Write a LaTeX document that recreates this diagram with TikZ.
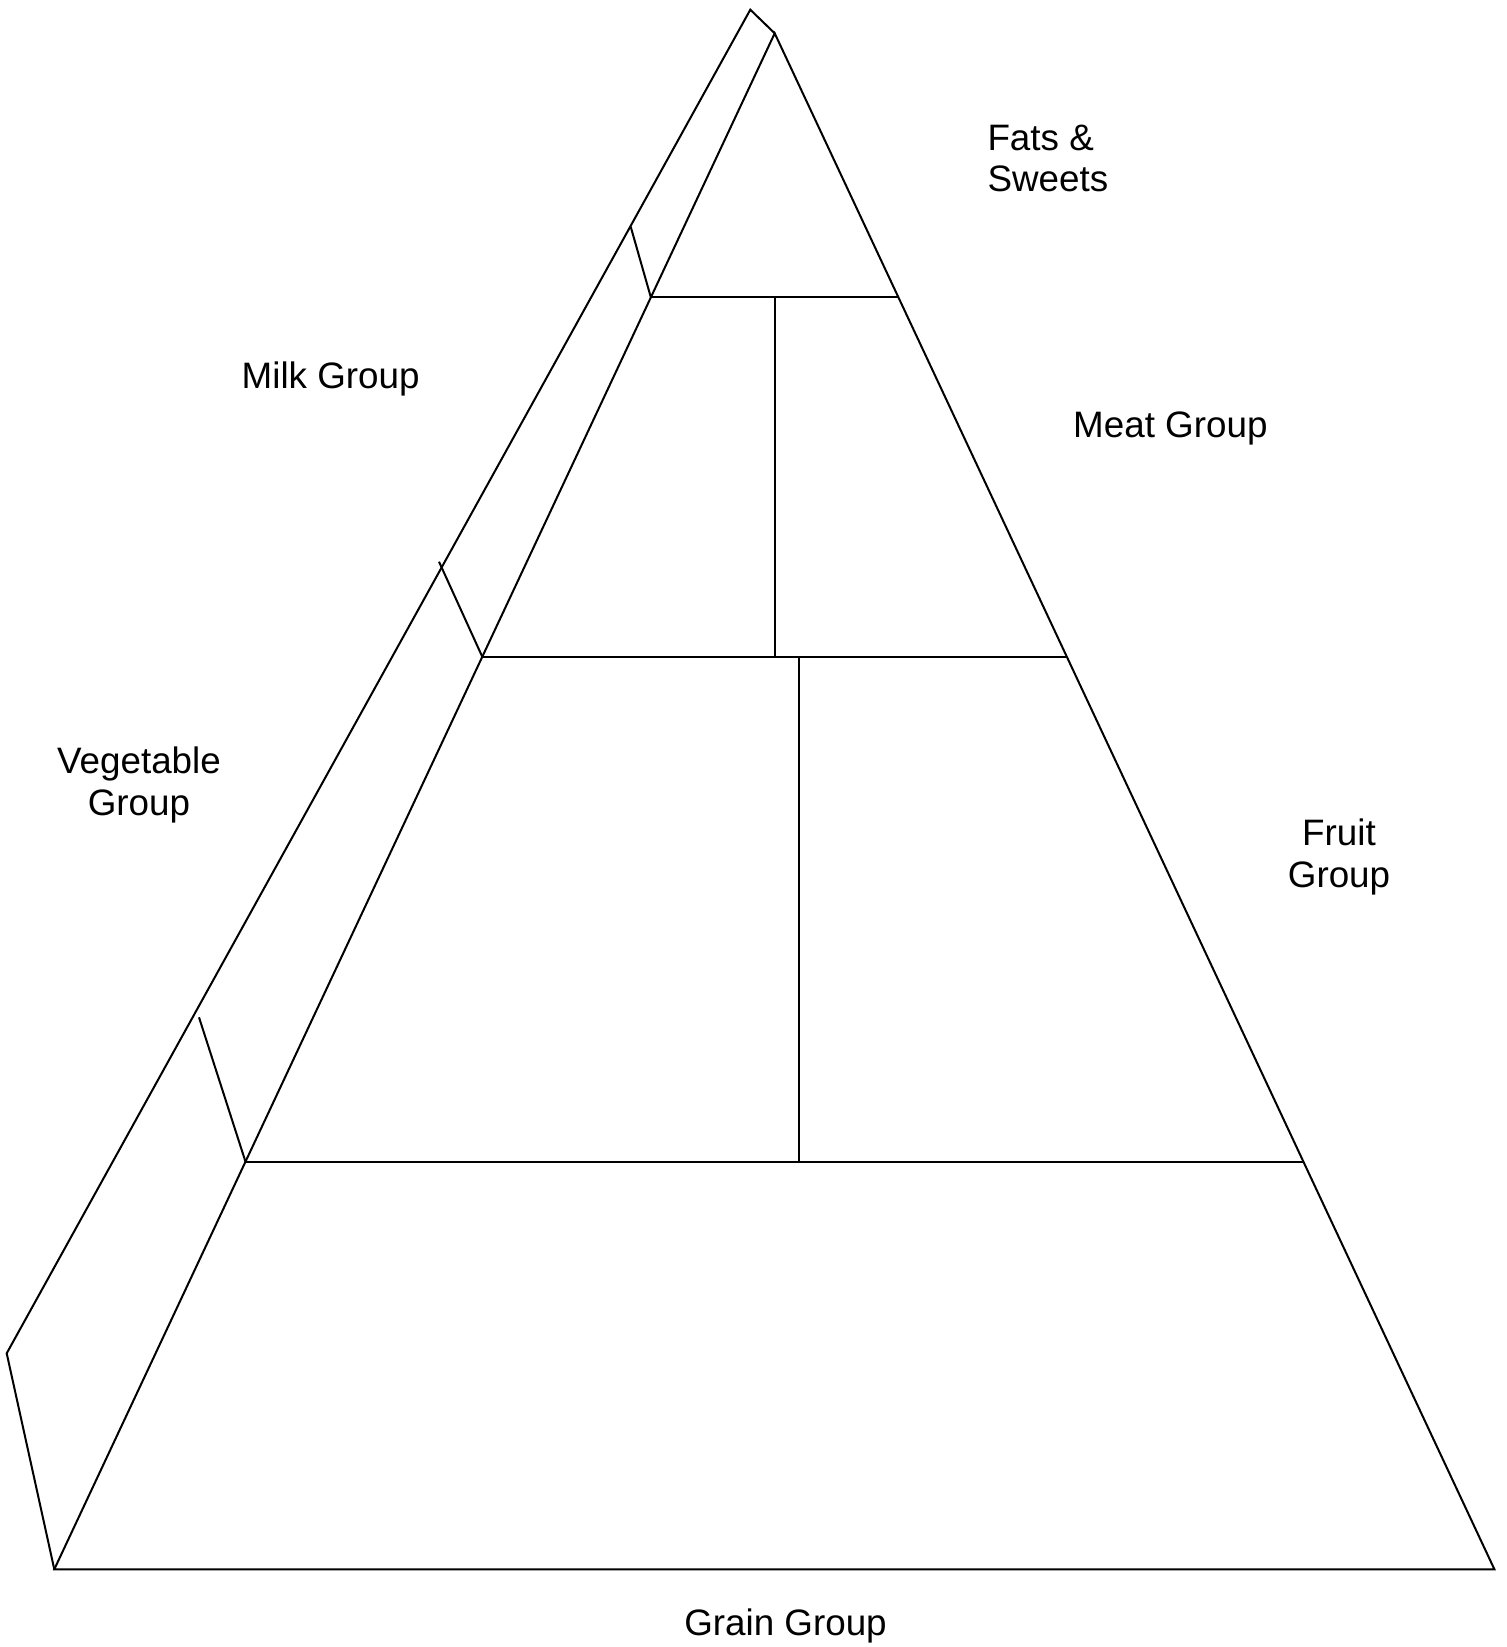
\documentclass[tikz,border=0pt]{standalone}
\usepackage{fontspec}
\setmainfont{Liberation Sans}
\usetikzlibrary{calc}
\tikzstyle{outline} = [
    line width=2pt,
    line join=miter
]
\tikzstyle{grouptext} = [
    inner sep=0pt,
    font=\fontsize{36.8}{41.7}\selectfont,
    align=center
]

\begin{document}
\begin{tikzpicture}[x=1pt, y=-1pt]
\useasboundingbox (0,0) rectangle (1507,1647);

\coordinate (apex) at (774.7,33.3);
\coordinate (backapex) at (750.3,9.7);
\coordinate (backleft) at (6.7,1353.3);
\coordinate (baseleft) at (54.3,1569.3);
\coordinate (baseright) at (1494.4,1569.3);

% tier corners
\coordinate (tierAl) at ($(apex)!0.1719!(baseleft)$);
\coordinate (tierAr) at ($(apex)!0.1719!(baseright)$);
\coordinate (tierBl) at ($(apex)!0.4059!(baseleft)$);
\coordinate (tierBr) at ($(apex)!0.4059!(baseright)$);
\coordinate (tierCl) at ($(apex)!0.7346!(baseleft)$);
\coordinate (tierCr) at ($(apex)!0.7346!(baseright)$);

\coordinate (tickA) at (630.7,226.7);
\coordinate (tickB) at (439,561.7);
\coordinate (tickC) at (199,1017.3);

\draw [outline] (apex) -- (baseleft) -- (baseright) -- cycle;
\draw [outline] (baseleft) -- (backleft) -- (backapex) -- (apex);

\draw [outline] (tierAl) -- (tierAr);
\draw [outline] (tierBl) -- (tierBr);
\draw [outline] (tierCl) -- (tierCr);

\draw [outline] (tierAl -| apex) -- (tierBl -| apex);
\draw [outline] (799.2,656.7) -- (tierCl -| 799.2,0);

\draw [outline] (tickA) -- (tierAl);
\draw [outline] (tickB) -- (tierBl);
\draw [outline] (tickC) -- (tierCl);

\node (fats) [grouptext, anchor=base west, align=left] at (987.3,191.7)
{Fats \&\\Sweets};
\node (milk) [grouptext, anchor=base west] at (241.5,388.5)
{Milk Group};
\node (meat) [grouptext, anchor=base west] at (1073,437)
{Meat Group};
\node (veg) [grouptext, anchor=base] at (139,815.2)
{Vegetable\\Group};
\node (fruit) [grouptext, anchor=base] at (1339,887.2)
{Fruit\\Group};
\node (grain) [grouptext, anchor=base] at (785.5,1635)
{Grain Group};

\end{tikzpicture}
\end{document}
